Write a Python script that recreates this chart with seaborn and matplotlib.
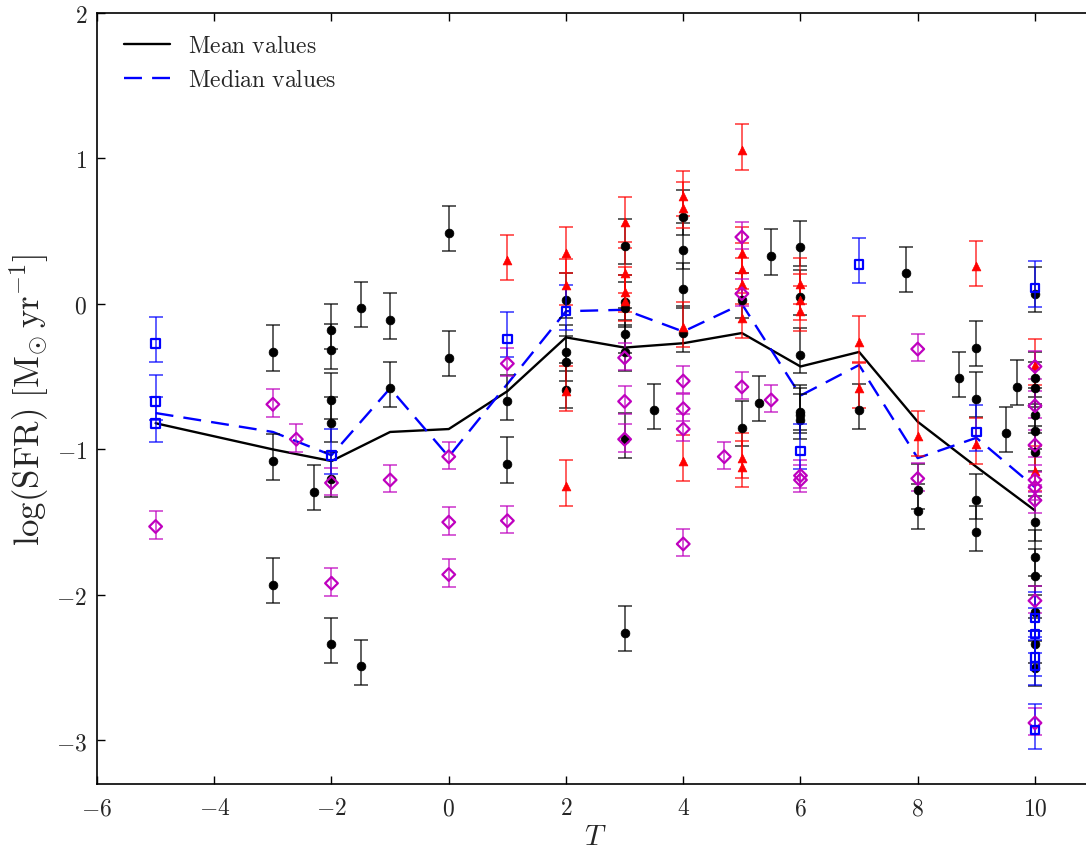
import numpy as np
import pandas as pd
import matplotlib
matplotlib.use('Agg')
import matplotlib.pyplot as plt
import seaborn as sns
from matplotlib.ticker import FuncFormatter

# ---------------- data ----------------
black_T = [-3, -3, -3, -2.3, -2, -2, -2, -2, -2, -2, -1.5, -1.5, -1, -1, 0, 0, 1, 1,
           2, 2, 2, 2, 3, 3, 3, 3, 3, 3, 3, 3.5, 4, 4, 4, 4, 5, 5, 5.3, 5.5,
           6, 6, 6, 6, 6, 6, 7, 7.8, 8, 8, 8.7, 9, 9, 9, 9, 9.5, 9.7,
           10, 10, 10, 10, 10, 10, 10, 10, 10, 10, 10, 10]
black_v = [-0.33, -1.08, -1.93, -1.29, -0.18, -0.32, -0.66, -0.82, -1.20, -2.34, -0.03, -2.49,
           -0.11, -0.58, 0.49, -0.37, -0.67, -1.10,
           0.03, -0.33, -0.40, -0.59, 0.40, 0.015, -0.03, -0.21, -0.33, -0.93, -2.26, -0.73,
           0.60, 0.37, 0.10, -0.20, 0.03, -0.85, -0.68, 0.33,
           0.39, 0.05, -0.35, -0.74, -0.76, -0.80, -0.73, 0.21, -1.28, -1.42, -0.51,
           -0.30, -0.65, -1.35, -1.57, -0.89, -0.57,
           0.07, -0.51, -0.58, -0.76, -0.87, -1.02, -1.50, -1.74, -1.87, -2.12, -2.34, -2.50]

red_T = [1, 2, 2, 2, 2, 3, 3, 3, 3, 4, 4, 4, 4, 5, 5, 5, 5, 5, 5, 5,
         6, 6, 6, 7, 7, 8, 9, 9, 10, 10]
red_v = [0.30, 0.35, 0.13, -0.60, -1.25, 0.56, 0.21, 0.08, 0.02, 0.74, 0.66, -0.16, -1.08,
         1.06, 0.35, 0.24, 0.14, -0.10, -1.06, -1.12, 0.14, 0.03, -0.05, -0.26, -0.58,
         -0.91, 0.26, -0.96, -0.42, -1.15]

mag_T = [-5, -3, -2.6, -2, -2, -1, 0, 0, 0, 1, 1, 3, 3, 3, 4, 4, 4, 4, 4.7,
         5, 5, 5, 5.5, 6, 6, 8, 8, 10, 10, 10, 10, 10, 10, 10, 10]
mag_v = [-1.53, -0.69, -0.93, -1.23, -1.92, -1.21, -1.05, -1.50, -1.86, -0.41, -1.49,
         -0.37, -0.67, -0.93, -0.53, -0.72, -0.86, -1.65, -1.05,
         0.46, 0.07, -0.57, -0.66, -1.18, -1.21, -0.31, -1.20,
         -0.43, -0.70, -0.97, -1.21, -1.26, -1.35, -2.04, -2.88]

blue_T = [-5, -5, -5, -2, 1, 2, 6, 7, 9, 10, 10, 10, 10, 10, 10]
blue_v = [-0.27, -0.67, -0.82, -1.04, -0.24, -0.05, -1.01, 0.27, -0.88,
          0.11, -2.16, -2.27, -2.43, -2.49, -2.93]

mean_T = [-5, -3, -2, -1, 0, 1, 2, 3, 4, 5, 6, 7, 8, 9, 10]
mean_v = [-0.82, -1.00, -1.08, -0.88, -0.86, -0.60, -0.23, -0.30, -0.27, -0.20,
          -0.43, -0.33, -0.81, -1.12, -1.42]

median_T = [-5, -3, -2, -1, 0, 1, 2, 3, 4, 5, 6, 7, 8, 9, 10]
median_v = [-0.75, -0.88, -1.04, -0.58, -1.05, -0.55, -0.05, -0.04, -0.19, 0.00,
            -0.63, -0.42, -1.06, -0.92, -1.26]

# asymmetric errors (lower, upper) in dex
err_big = (0.128, 0.183)
err_red = (0.137, 0.176)
err_small = (0.085, 0.104)

x_ticks = [-6, -4, -2, 0, 2, 4, 6, 8, 10]
y_ticks = [-3, -2, -1, 0, 1, 2]

# ---------------- style ----------------
sns.set_style('ticks')
plt.rcParams['font.family'] = ['DejaVu Serif']
plt.rcParams['mathtext.fontset'] = 'cm'

W, H = 1086, 853
fig = plt.figure(figsize=(W / 100, H / 100), dpi=100)
ax_left, ax_right, ax_top, ax_bot = 97, 1093.6, 14, 785
ax = fig.add_axes([ax_left / W, (H - ax_bot) / H, (ax_right - ax_left) / W, (ax_bot - ax_top) / H])


def draw(T, v, err, color, marker, size, hollow, zo):
    T = np.asarray(T, float)
    v = np.asarray(v, float)
    lo = np.full_like(v, err[0])
    hi = np.full_like(v, err[1])
    ax.errorbar(T, v, yerr=[lo, hi], fmt='none', ecolor=color, elinewidth=1.1,
                capsize=4.7, capthick=1.1, alpha=0.8, zorder=zo)
    df = pd.DataFrame({'T': T, 'v': v})
    sns.scatterplot(data=df, x='T', y='v', ax=ax, color=color, marker=marker, s=size,
                    linewidth=1.6, zorder=zo + 0.5, legend=False)
    coll = ax.collections[-1]
    if hollow:
        coll.set_facecolor('none')
        coll.set_edgecolor(color)
    else:
        coll.set_facecolor(color)
        coll.set_edgecolor(color)
        coll.set_linewidth(0.5)


draw(black_T, black_v, err_big, 'k', 'o', 40, False, 3)
draw(red_T, red_v, err_red, 'r', '^', 40, False, 3.2)
draw(mag_T, mag_v, err_small, 'm', 'D', 42, True, 3.4)
draw(blue_T, blue_v, err_big, 'b', 's', 38, True, 3.6)

mean_df = pd.DataFrame({'T': mean_T, 'v': mean_v})
median_df = pd.DataFrame({'T': median_T, 'v': median_v})
sns.lineplot(data=mean_df, x='T', y='v', ax=ax, color='k', lw=1.7, estimator=None,
             sort=False, label='Mean values', zorder=2)
sns.lineplot(data=median_df, x='T', y='v', ax=ax, color='b', lw=1.7, estimator=None,
             sort=False, label='Median values', zorder=2, linestyle=(0, (7.6, 4.3)))

ax.set_xlim(-6, 11)
ax.set_ylim(-3.3, 2)
ax.set_xticks(x_ticks)
ax.set_yticks(y_ticks)
fmt = FuncFormatter(lambda v, _: r'$%d$' % round(v))
ax.xaxis.set_major_formatter(fmt)
ax.yaxis.set_major_formatter(fmt)
ax.tick_params(direction='in', top=True, right=True, length=6, width=1.0,
               labelsize=17, color='k')
ax.tick_params(axis='x', pad=9)
ax.tick_params(axis='y', pad=7)
for s in ax.spines.values():
    s.set_linewidth(1.2)
    s.set_color('k')

ax.set_xlabel(r'$T$', fontsize=21, labelpad=2)
ax.set_ylabel(r'$\log(\mathrm{SFR})\ [\mathrm{M}_{\odot}\,\mathrm{yr}^{-1}]$', fontsize=25, labelpad=4)

leg = ax.legend(loc='upper left', bbox_to_anchor=(0.0177, 0.985), borderaxespad=0,
                frameon=False, fontsize=17, handlelength=1.95,
                handletextpad=0.76, labelspacing=0.47)
for t, lab in zip(leg.get_texts(), ['Mean values', 'Median values']):
    t.set_text(r'$\mathrm{%s}$' % lab.replace(' ', r'\ '))

fig.savefig('out.png', dpi=100)
